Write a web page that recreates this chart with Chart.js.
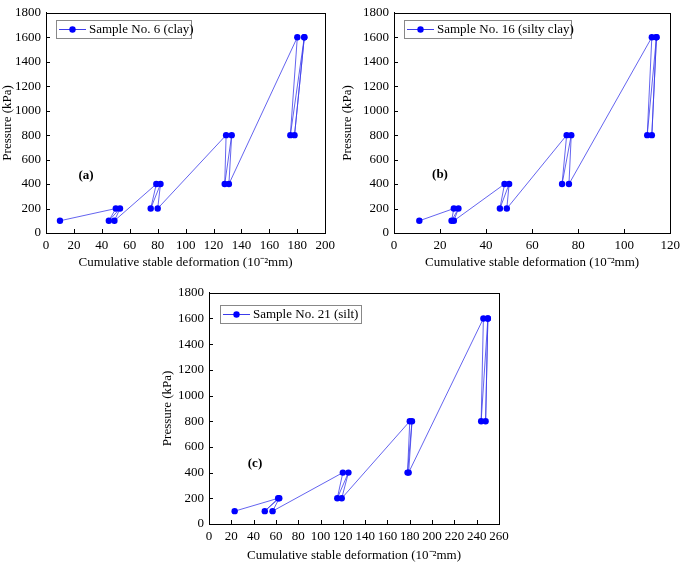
<!DOCTYPE html>
<html><head><meta charset="utf-8">
<script src="https://cdn.jsdelivr.net/npm/chart.js@4"></script>
<style>
html,body{margin:0;padding:0;background:#fff;}
#wrap{position:relative;width:685px;height:563px;overflow:hidden;background:#fff;}
canvas{position:absolute;}
</style></head><body>
<div id="wrap">
<canvas id="ca" width="340" height="275" style="left:0px;top:0px"></canvas>
<canvas id="cb" width="345" height="275" style="left:340px;top:0px"></canvas>
<canvas id="cc" width="360" height="283" style="left:160px;top:280px"></canvas>
</div>
<script>
// Loading sequence (kPa), shared by the three samples
const pressureSteps = [100,200,100,200,100,400,200,400,200,800,400,800,400,1600,800,1600,800,1600];
// Cumulative stable deformation (10^-2 mm)
const deformationA = [10,50,45,53,49,79,75,82,80,129,128,133,131,180,175,185,178,185];
const deformationB = [11,26,25,28,26,48,46,50,49,75,73,77,76,112,110,114,112,114];
const deformationC = [23,62,50,63,57,120,115,125,119,180,178,182,179,246,244,250,248,250];
const labelA = 'Sample No. 6 (clay)';
const labelB = 'Sample No. 16 (silty clay)';
const labelC = 'Sample No. 21 (silt)';
const panelLabels = ['(a)','(b)','(c)'];
const xMaxes = [200,120,260];
const yTicks = [0,200,400,600,800,1000,1200,1400,1600,1800];
const xTitle = 'Cumulative stable deformation (10\u207B\u00B2mm)';
const yTitle = 'Pressure (kPa)';

const FONT = "'Liberation Serif','Times New Roman',serif";

const decor = {
  id: 'decor',
  afterDraw(chart, args, o) {
    const ctx = chart.ctx, ca = chart.chartArea;
    ctx.save();
    ctx.strokeStyle = '#000'; ctx.lineWidth = 1;
    ctx.strokeRect(Math.round(ca.left)+0.5, Math.round(ca.top)+0.5, Math.round(ca.right-ca.left), Math.round(ca.bottom-ca.top));
    const xs = chart.scales.x, ys = chart.scales.y;
    ctx.beginPath();
    xs.ticks.forEach(t => { const px = Math.round(xs.getPixelForValue(t.value))+0.5; ctx.moveTo(px, ca.bottom); ctx.lineTo(px, ca.bottom-4); });
    ys.ticks.forEach(t => { const py = Math.round(ys.getPixelForValue(t.value))+0.5; ctx.moveTo(ca.left, py); ctx.lineTo(ca.left+4, py); });
    ctx.stroke();
    const b = o.box;
    ctx.strokeStyle = '#888'; ctx.lineWidth = 1;
    ctx.strokeRect(b.x+0.5, b.y+0.5, b.w, b.h);
    const ds = chart.data.datasets[0];
    const my = b.y + b.h/2 + 0.5;
    ctx.strokeStyle = ds.borderColor; ctx.lineWidth = 1;
    ctx.beginPath(); ctx.moveTo(b.x+3, my); ctx.lineTo(b.x+30, my); ctx.stroke();
    ctx.fillStyle = ds.pointBackgroundColor;
    ctx.beginPath(); ctx.arc(b.x+16.5, my, 3.2, 0, Math.PI*2); ctx.fill();
    ctx.fillStyle = '#000'; ctx.font = '13px ' + FONT; ctx.textBaseline = 'middle'; ctx.textAlign = 'left';
    ctx.fillText(ds.label, b.x+33, my+0.5);
    ctx.font = 'bold 13px ' + FONT; ctx.textAlign = 'center';
    ctx.fillText(o.panel, o.px, o.py);
    ctx.restore();
  }
};

function makeChart(id, xs, label, xMax, geo) {
  const pts = xs.map((x, i) => ({x: x, y: pressureSteps[i]}));
  return new Chart(document.getElementById(id), {
    type: 'line',
    data: { datasets: [{
      label: label, data: pts,
      borderColor: 'rgba(60,60,235,1)', borderWidth: 0.8,
      pointBackgroundColor: '#0000ff', pointBorderColor: '#0000ff',
      pointRadius: 3.2, pointBorderWidth: 0, tension: 0, fill: false
    }]},
    options: {
      responsive: false, animation: false, events: [],
      layout: { padding: { left: 0, top: geo.top, right: geo.right, bottom: 0 } },
      plugins: { legend: { display: false }, tooltip: { enabled: false },
        decor: { box: geo.box, panel: geo.panel, px: geo.px, py: geo.py } },
      scales: {
        x: { type: 'linear', min: 0, max: xMax,
          afterFit: s => { s.height = geo.xh; },
          afterBuildTicks: s => { const t=[]; for (let v=0; v<=xMax; v+=20) t.push({value:v}); s.ticks = t; },
          grid: { display: false, drawTicks: false },
          border: { display: true, color: '#000', width: 1 },
          ticks: { color: '#000', font: { family: FONT, size: 13 }, padding: 5, maxRotation: 0, autoSkip: false,
            callback: v => String(v) },
          title: { display: true, text: xTitle, color: '#000', font: { family: FONT, size: 13 }, padding: { top: 2, bottom: geo.tb } } },
        y: { type: 'linear', min: 0, max: 1800,
          afterFit: s => { s.width = geo.yw; },
          afterBuildTicks: s => { s.ticks = yTicks.map(v => ({value: v})); },
          grid: { display: false, drawTicks: false },
          border: { display: true, color: '#000', width: 1 },
          ticks: { color: '#000', font: { family: FONT, size: 13 }, padding: 5, autoSkip: false,
            callback: v => String(v) },
          title: { display: true, text: yTitle, color: '#000', font: { family: FONT, size: 13 }, padding: { bottom: 0, top: 0 } } }
      }
    },
    plugins: [decor]
  });
}

makeChart('ca', deformationA, labelA, xMaxes[0], { top: 8, right: 14, xh: 42, yw: 46, tb: 5,
  box: { x: 56, y: 20, w: 135, h: 18 }, panel: panelLabels[0], px: 86, py: 176 });
makeChart('cb', deformationB, labelB, xMaxes[1], { top: 7, right: 9, xh: 42, yw: 54, tb: 5,
  box: { x: 64, y: 20, w: 167, h: 18 }, panel: panelLabels[1], px: 100, py: 175 });
makeChart('cc', deformationC, labelC, xMaxes[2], { top: 11, right: 21, xh: 39, yw: 49, tb: 0,
  box: { x: 60, y: 25, w: 141, h: 18 }, panel: panelLabels[2], px: 95, py: 184 });
</script>
</body></html>
